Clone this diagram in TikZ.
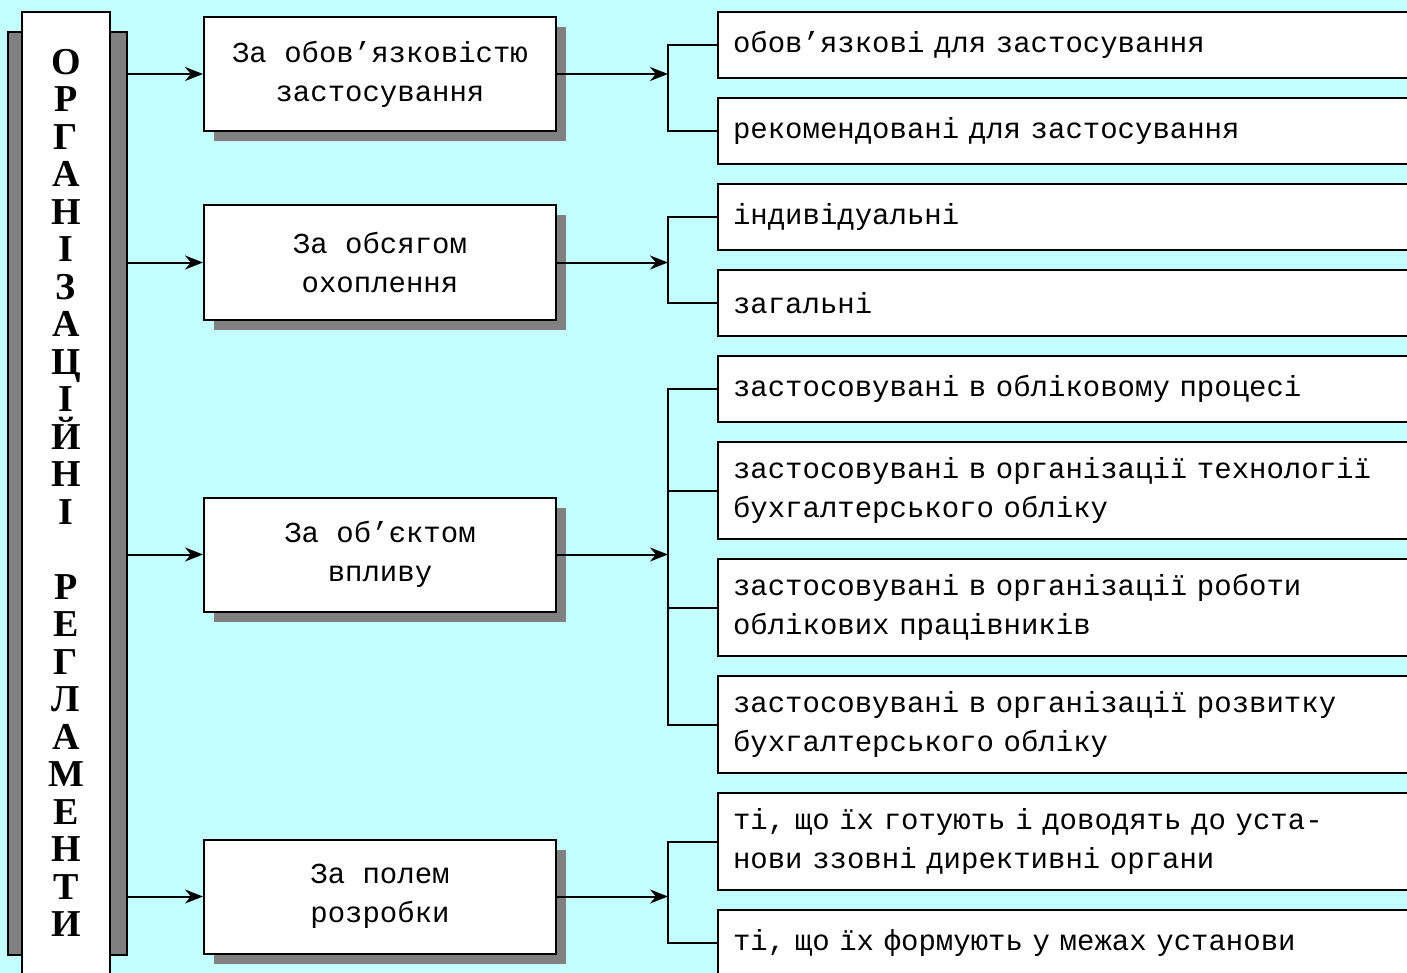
\documentclass[tikz,border=0pt]{standalone}
\usepackage{fontspec}
\setmainfont{Liberation Serif}
\setmonofont{Liberation Mono}
\usetikzlibrary{arrows.meta,shadows,positioning}

\definecolor{skyback}{RGB}{195,255,255}
\definecolor{shade}{RGB}{128,128,128}

\begin{document}
\begin{tikzpicture}[x=0.5pt, y=-0.5pt, line width=1pt, node distance=9pt,
    >={Stealth[length=9pt,width=7pt]},
    crit/.style={rectangle, draw, fill=white, minimum width=176pt, minimum height=57pt,
      align=center, font=\ttfamily\fontsize{14.5}{19.5}\selectfont,
      drop shadow={shadow xshift=5pt, shadow yshift=-5pt, fill=shade, opacity=1}},
    item/.style={rectangle, draw, fill=white, anchor=west, text width=340pt, inner xsep=7.5pt,
      minimum height=33pt, align=left, font=\ttfamily\fontsize{14.5}{19.5}\selectfont}]
    \useasboundingbox (0,0) rectangle (1407,973);
    \clip (0,0) rectangle (1407,973);
    \fill[skyback] (0,0) rectangle (1407,973);

    % Title bar
    \node [rectangle, draw, fill=shade, minimum width=59.5pt, minimum height=461.5pt] (barshade) at (67.5,493.5) {};
    \node [rectangle, draw, fill=white, minimum width=44pt, minimum height=489pt] (bar) at (66,501) {};
    \node [align=center, font=\bfseries\fontsize{19}{18.75}\selectfont] (title) at (66,493)
      {О\\Р\\Г\\А\\Н\\І\\З\\А\\Ц\\І\\Й\\Н\\І\\[18.75pt]Р\\Е\\Г\\Л\\А\\М\\Е\\Н\\Т\\И};

    % Criteria
    \node [crit] (oblig) at (380,74) {За обов’язковістю\\застосування};
    \node [crit] (scope) at (380,262.5) {За обсягом\\охоплення};
    \node [crit] (object) at (380,554.5) {За об’єктом\\впливу};
    \node [crit] (field) at (380,896.5) {За полем\\розробки};

    % Kinds
    \node [item] (obl) at (717,45) {обов’язкові для застосування};
    \node [item, below=of obl] (rec) {рекомендовані для застосування};
    \node [item, below=of rec] (indiv) {індивідуальні};
    \node [item, below=of indiv] (gen) {загальні};
    \node [item, below=of gen] (proc) {застосовувані в обліковому процесі};
    \node [item, minimum height=48.5pt, below=of proc] (tech) {застосовувані в організації технології\\бухгалтерського обліку};
    \node [item, minimum height=48.5pt, below=of tech] (staff) {застосовувані в організації роботи\\облікових працівників};
    \node [item, minimum height=48.5pt, below=of staff] (devel) {застосовувані в організації розвитку\\бухгалтерського обліку};
    \node [item, minimum height=48.5pt, below=of devel] (ext) {ті, що їх готують і доводять до уста-\\нови ззовні директивні органи};
    \node [item, below=of ext] (inner) {ті, що їх формують у межах установи};

    % Arrows
    \coordinate (fork) at (668,0);
    \draw[->] (oblig.west -| barshade.east) -- (oblig.west);
    \draw[->] (scope.west -| barshade.east) -- (scope.west);
    \draw[->] (object.west -| barshade.east) -- (object.west);
    \draw[->] (field.west -| barshade.east) -- (field.west);
    \draw[->] (oblig.east) -- (oblig.east -| fork);
    \draw[->] (scope.east) -- (scope.east -| fork);
    \draw[->] (object.east) -- (object.east -| fork);
    \draw[->] (field.east) -- (field.east -| fork);

    % Brackets
    \draw (obl.west) -- (obl.west -| fork) -- (rec.west -| fork) -- (rec.west);
    \draw (indiv.west) -- (indiv.west -| fork) -- (gen.west -| fork) -- (gen.west);
    \draw (proc.west) -- (proc.west -| fork) -- (devel.west -| fork) -- (devel.west);
    \draw (tech.west -| fork) -- (tech.west);
    \draw (staff.west -| fork) -- (staff.west);
    \draw (ext.west) -- (ext.west -| fork) -- (inner.west -| fork) -- (inner.west);
\end{tikzpicture}
\end{document}
